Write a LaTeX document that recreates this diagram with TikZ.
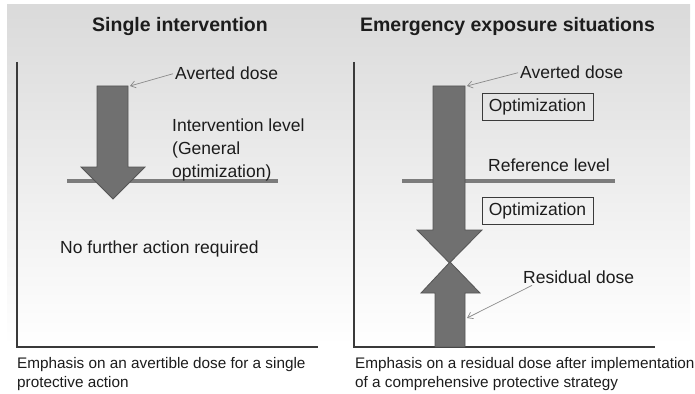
\documentclass[tikz,border=0pt]{standalone}
\usepackage{fontspec}
\setmainfont{Liberation Sans}
\usetikzlibrary{arrows.meta}
\definecolor{bgtop}{HTML}{DADADA}
\definecolor{ink}{HTML}{1C1C1C}
\definecolor{arrowfill}{HTML}{707070}
\definecolor{arrowedge}{HTML}{555555}
\definecolor{levelgray}{HTML}{7C7C7C}
\definecolor{axisgray}{HTML}{3A3A3A}
\definecolor{ptrgray}{HTML}{8A8A8A}
\begin{document}
\begin{tikzpicture}[x=1pt,y=-1pt,
  title/.style={font=\fontsize{19.5}{23}\selectfont\bfseries, text=ink, inner sep=0pt, anchor=base},
  label/.style={font=\fontsize{17.5}{23}\selectfont, text=ink, inner sep=0pt, anchor=base west},
  caption/.style={font=\fontsize{15.3}{19}\selectfont, text=ink, inner sep=0pt, anchor=north west, align=left},
  optbox/.style={font=\fontsize{17.5}{21}\selectfont, text=ink, draw=axisgray, line width=0.8pt,
    minimum width=111pt, minimum height=27pt, inner sep=0pt},
  doseblock/.style={fill=arrowfill, draw=arrowedge, line width=0.8pt, line join=miter},
  levelline/.style={draw=levelgray, line width=4pt},
  axisline/.style={draw=axisgray, line width=1.4pt},
  ptr/.style={draw=ptrgray, line width=0.7pt, -{Straight Barb[length=5pt,width=7pt]}}]
  \useasboundingbox (0,0) rectangle (695,393);
  % soft grey backdrop fading to white
  \shade[top color=bgtop, bottom color=white] (7,5) rectangle (690,345);

  % ---------------- left panel: single intervention ----------------
  \node[title] (titleL) at (180,32) {Single intervention};
  \draw[axisline] (17,62) -- (17,347) -- (318,347);
  \draw[levelline] (67,181) -- (278,181);
  \draw[doseblock] (97,86) -- (128,86) -- (128,167) -- (145,167) -- (113,199)
    -- (81,167) -- (97,167) -- cycle;
  \coordinate (tipL) at (130,86);
  \node[label, inner sep=2pt] (avertL) at (173,80) {Averted dose};
  \draw[ptr] (avertL.west) -- (tipL);
  \node[label, anchor=north west, align=left] (levelL) at (172,118.3)
    {Intervention level\\(General\\optimization)};
  \node[label] (nofurther) at (60,253) {No further action required};
  \node[caption] (capL) at (17,357) {Emphasis on an avertible dose for a single\\protective action};

  % ---------------- right panel: emergency exposure situations ----------------
  \node[title] (titleR) at (507.5,32) {Emergency exposure situations};
  \draw[axisline] (354,62) -- (354,347) -- (655,347);
  \draw[levelline] (402,181) -- (615,181);
  \draw[doseblock] (433,86) -- (465,86) -- (465,230) -- (482,230) -- (449.5,263)
    -- (417,230) -- (433,230) -- cycle;
  \draw[doseblock] (435,347) -- (435,293) -- (421,293) -- (450,262) -- (480,293)
    -- (465,293) -- (465,347) -- cycle;
  \coordinate (tipR) at (467,86);
  \coordinate (resR) at (467,318);
  \node[label, inner sep=2pt] (avertR) at (518,79) {Averted dose};
  \draw[ptr] (avertR.west) -- (tipR);
  \node[optbox] (opt1) at (537.5,106.5) {Optimization};
  \node[label] (reflevel) at (488,171) {Reference level};
  \node[optbox] (opt2) at (537.5,211) {Optimization};
  \node[label, inner sep=2pt] (resid) at (521,283) {Residual dose};
  \draw[ptr] ([xshift=11pt]resid.south west) -- (resR);
  \node[caption] (capR) at (355,357) {Emphasis on a residual dose after implementation\\of a comprehensive protective strategy};
\end{tikzpicture}
\end{document}
